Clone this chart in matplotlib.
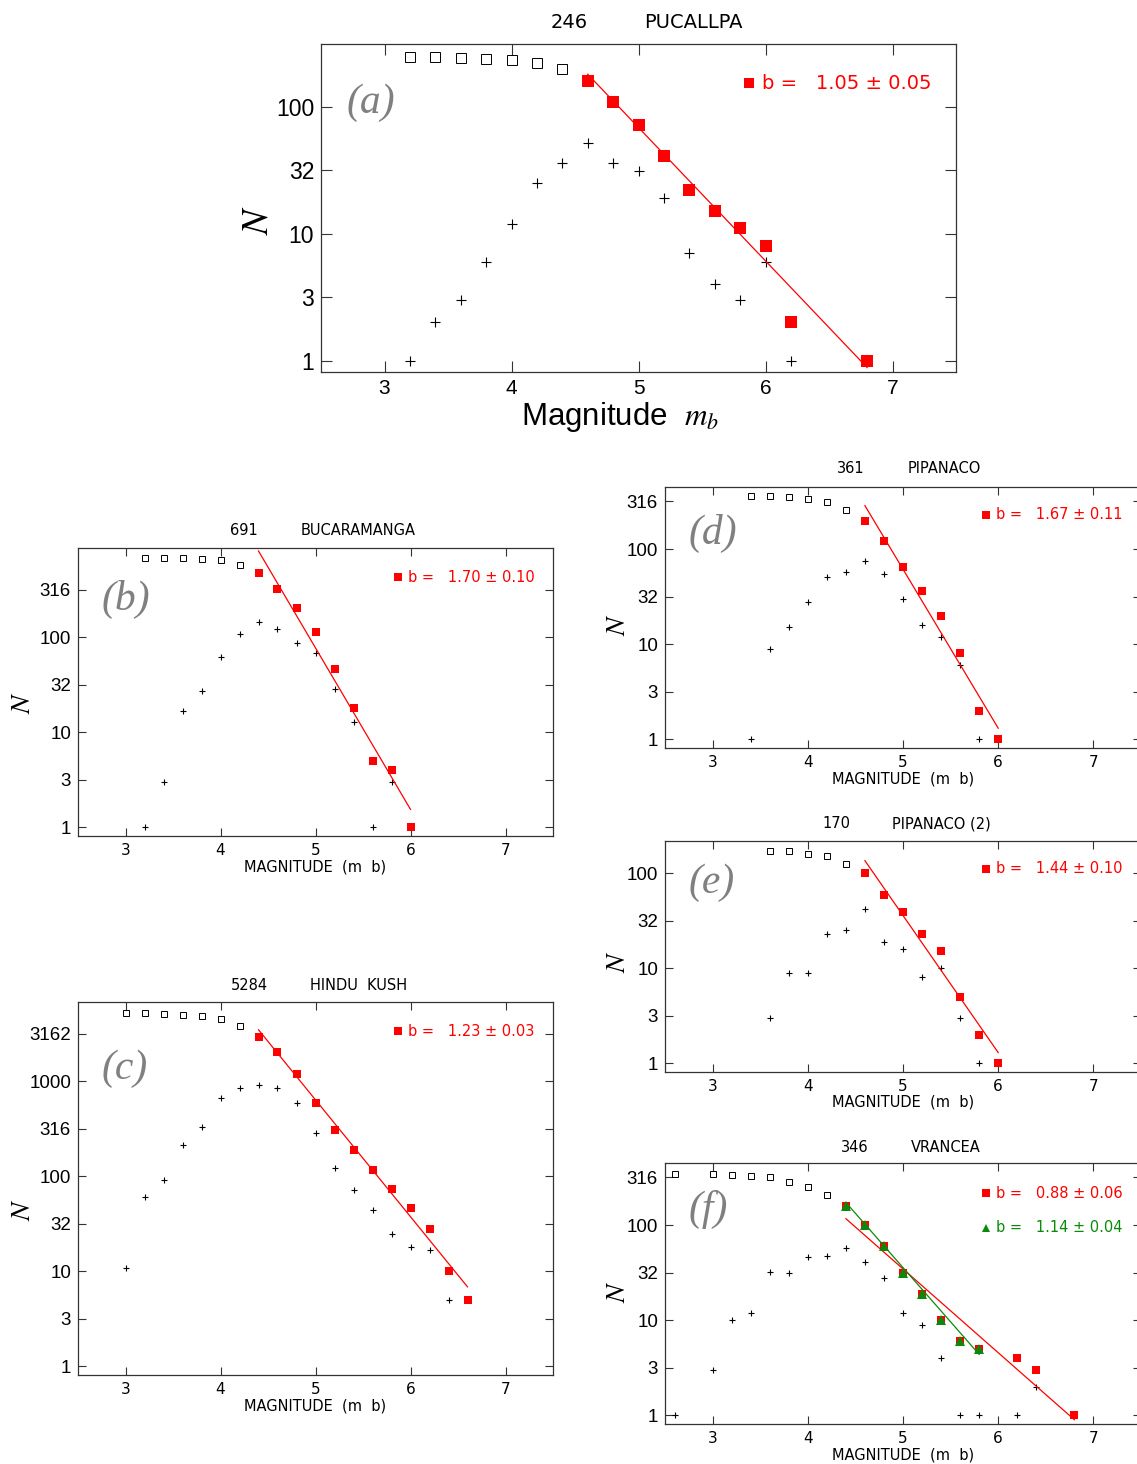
# %%
# b-value plots: cumulative (squares) and per-bin (+) counts vs magnitude

import numpy as np
import matplotlib.pyplot as plt
from matplotlib.ticker import NullLocator

plt.rcParams['mathtext.fontset'] = 'stix'

# %%
# Values

# (a) 246 PUCALLPA
mag_a = [3.2, 3.4, 3.6, 3.8, 4.0, 4.2, 4.4, 4.6, 4.8, 5.0, 5.2, 5.4, 5.6, 5.8, 6.0, 6.2, 6.8]
cum_a = [246, 245, 242, 239, 232, 220, 196, 158, 108, 71, 41, 22, 15, 11, 8, 2, 1]
inc_mag_a = [3.2, 3.4, 3.6, 3.8, 4.0, 4.2, 4.4, 4.6, 4.8, 5.0, 5.2, 5.4, 5.6, 5.8, 6.0, 6.2]
inc_a = [1, 2, 3, 6, 12, 25, 36, 52, 36, 31, 19, 7, 4, 3, 6, 1]
open_a = 7
fit_a = [1.05, 0.05, 7.085, 4.6, 6.8]   # b, error, log10 intercept, m from, m to

# (b) 691 BUCARAMANGA
mag_b = [3.2, 3.4, 3.6, 3.8, 4.0, 4.2, 4.4, 4.6, 4.8, 5.0, 5.2, 5.4, 5.6, 5.8, 6.0]
cum_b = [691, 690, 687, 673, 647, 582, 480, 325, 205, 115, 47, 18, 5, 4, 1]
inc_mag_b = [3.2, 3.4, 3.6, 3.8, 4.0, 4.2, 4.4, 4.6, 4.8, 5.0, 5.2, 5.4, 5.6, 5.8]
inc_b = [1, 3, 17, 27, 63, 108, 145, 122, 88, 68, 29, 13, 1, 3]
open_b = 6
fit_b = [1.70, 0.10, 10.39, 4.4, 6.0]

# (c) 5284 HINDU KUSH
mag_c = [3.0, 3.2, 3.4, 3.6, 3.8, 4.0, 4.2, 4.4, 4.6, 4.8, 5.0, 5.2, 5.4, 5.6, 5.8, 6.0, 6.2, 6.4, 6.6]
cum_c = [5270, 5213, 5170, 5050, 4850, 4510, 3810, 2945, 2049, 1203, 597, 311, 191, 118, 73, 46, 28, 10, 5]
inc_mag_c = [3.0, 3.2, 3.4, 3.6, 3.8, 4.0, 4.2, 4.4, 4.6, 4.8, 5.0, 5.2, 5.4, 5.6, 5.8, 6.0, 6.2, 6.4]
inc_c = [11, 61, 91, 213, 334, 663, 851, 907, 844, 587, 286, 123, 72, 44, 25, 18, 17, 5]
open_c = 7
fit_c = [1.23, 0.03, 8.956, 4.4, 6.6]

# (d) 361 PIPANACO
mag_d = [3.4, 3.6, 3.8, 4.0, 4.2, 4.4, 4.6, 4.8, 5.0, 5.2, 5.4, 5.6, 5.8, 6.0]
cum_d = [360, 360, 351, 337, 309, 254, 198, 122, 65, 36, 20, 8, 2, 1]
inc_mag_d = [3.4, 3.6, 3.8, 4.0, 4.2, 4.4, 4.6, 4.8, 5.0, 5.2, 5.4, 5.6, 5.8]
inc_d = [1, 9, 15, 28, 51, 57, 75, 55, 30, 16, 12, 6, 1]
open_d = 6
fit_d = [1.67, 0.11, 10.138, 4.6, 6.0]

# (e) 170 PIPANACO (2)
mag_e = [3.6, 3.8, 4.0, 4.2, 4.4, 4.6, 4.8, 5.0, 5.2, 5.4, 5.6, 5.8, 6.0]
cum_e = [170, 169, 160, 150, 125, 100, 59, 39, 23, 15, 5, 2, 1]
inc_mag_e = [3.6, 3.8, 4.0, 4.2, 4.4, 4.6, 4.8, 5.0, 5.2, 5.4, 5.6, 5.8]
inc_e = [3, 9, 9, 23, 25, 42, 19, 16, 8, 10, 3, 1]
open_e = 5
fit_e = [1.44, 0.10, 8.754, 4.6, 6.0]

# (f) 346 VRANCEA
mag_f = [2.6, 3.0, 3.2, 3.4, 3.6, 3.8, 4.0, 4.2, 4.4, 4.6, 4.8, 5.0, 5.2, 5.4, 5.6, 5.8, 6.2, 6.4, 6.8]
cum_f = [345, 343, 337, 327, 316, 283, 252, 206, 158, 100, 60, 31, 19, 10, 6, 5, 4, 3, 1]
inc_mag_f = [2.6, 3.0, 3.2, 3.4, 3.6, 3.8, 4.0, 4.2, 4.4, 4.6, 4.8, 5.0, 5.2, 5.4, 5.6, 5.8, 6.2, 6.4]
inc_f = [1, 3, 10, 12, 32, 31, 46, 47, 57, 41, 28, 12, 9, 4, 1, 1, 1, 2]
open_f = 8
fit_f = [0.88, 0.06, 5.939, 4.4, 6.8]
green_mag_f = [4.4, 4.6, 4.8, 5.0, 5.2, 5.4, 5.6, 5.8]
green_cum_f = [158, 100, 60, 31, 19, 10, 6, 5]
green_fit_f = [1.14, 0.04, 7.253, 4.4, 5.8]

ytick_labels = ['1', '3', '10', '32', '100', '316', '1000', '3162']
xtick_vals = [3, 4, 5, 6, 7]

# %%
# Figure in pixels

W, H = 1137, 1464
fig = plt.figure(figsize=(W / 100, H / 100), dpi=100)


def ftext(x, y, s, **kw):
    fig.text(x / W, 1 - y / H, s, **kw)


def panel(box, mags, cum, n_open, inc_mags, inc, fit, letter, leg_y, big=False):
    l, t, r, b = box
    ax = fig.add_axes([l / W, 1 - b / H, (r - l) / W, (b - t) / H])
    k = 1.34 if big else 1.0
    lo = -0.09
    hi = lo + (b - t) / (r - l) * 5.0
    ax.set_yscale('log')
    ax.set_xlim(2.5, 7.5)
    ax.set_ylim(10 ** lo, 10 ** hi)

    exps = np.arange(0, hi, 0.5)
    ax.set_yticks(10 ** exps, ytick_labels[:len(exps)],
                  fontfamily='Liberation Sans', fontsize=16.5 if big else 13.5)
    ax.set_xticks(xtick_vals, [str(v) for v in xtick_vals],
                  fontfamily='Liberation Sans' if big else 'DejaVu Sans',
                  fontsize=15 if big else 11)
    ax.yaxis.set_minor_locator(NullLocator())
    ax.tick_params(which='both', direction='in', top=True, right=True,
                   length=6 * k, width=0.8, color='#333333', pad=5)
    for s in ax.spines.values():
        s.set_color('#333333')
        s.set_linewidth(0.9)

    ax.plot(mags[:n_open], cum[:n_open], 's', mfc='none', mec='black',
            ms=5.0 * k, mew=0.7)
    ax.plot(mags[n_open:], cum[n_open:], 's', color='red', ms=6.3 * k, mew=0)
    ax.plot(inc_mags, inc, '+', color='black', ms=5 * k, mew=0.8)
    m = np.array(fit[3:5])
    ax.plot(m, 10 ** (fit[2] - fit[0] * m), color='red', lw=0.9)

    ax.plot([0.674], [leg_y], 's', color='red', ms=5.2 * k, mew=0,
            transform=ax.transAxes, clip_on=False)
    ax.text(0.695, leg_y, 'b =   %.2f ± %.2f' % (fit[0], fit[1]), color='red',
            transform=ax.transAxes, va='center', fontsize=10.5 * k,
            family='DejaVu Sans')
    ax.text(0.04 if big else 0.05, 0.82, letter, transform=ax.transAxes,
            fontsize=30, family='Liberation Serif', style='italic',
            color='#808080', va='center')
    return ax


# %%
# Panel (a)
panel((321, 44, 956, 372), mag_a, cum_a, open_a, inc_mag_a, inc_a, fit_a,
      '(a)', 0.881, big=True)
ftext(569, 22, '246', ha='center', va='center', fontsize=14, family='DejaVu Sans')
ftext(644, 22, 'PUCALLPA', ha='left', va='center', fontsize=14, family='DejaVu Sans')
ftext(620, 417, 'Magnitude  $m_b$', ha='center', va='center', fontsize=22.5,
      family='Liberation Sans')
ftext(258, 220, '$N$', ha='center', va='center', fontsize=27, rotation=90)

# Panel (b)
panel((78, 548, 553, 836), mag_b, cum_b, open_b, inc_mag_b, inc_b, fit_b,
      '(b)', 0.899)
ftext(244, 531, '691', ha='center', va='center', fontsize=10.5, family='DejaVu Sans')
ftext(301, 531, 'BUCARAMANGA', ha='left', va='center', fontsize=10.5, family='DejaVu Sans')
ftext(315, 867, 'MAGNITUDE  (m  b)', ha='center', va='center', fontsize=10.5,
      family='DejaVu Sans')
ftext(22, 703, '$N$', ha='center', va='center', fontsize=20, rotation=90)

# Panel (c)
panel((78, 1002, 553, 1375), mag_c, cum_c, open_c, inc_mag_c, inc_c, fit_c,
      '(c)', 0.922)
ftext(249, 985, '5284', ha='center', va='center', fontsize=10.5, family='DejaVu Sans')
ftext(310, 985, 'HINDU  KUSH', ha='left', va='center', fontsize=10.5, family='DejaVu Sans')
ftext(315, 1406, 'MAGNITUDE  (m  b)', ha='center', va='center', fontsize=10.5,
      family='DejaVu Sans')
ftext(22, 1210, '$N$', ha='center', va='center', fontsize=20, rotation=90)

# Panel (d)
panel((665, 487, 1141, 748), mag_d, cum_d, open_d, inc_mag_d, inc_d, fit_d,
      '(d)', 0.893)
ftext(851, 469, '361', ha='center', va='center', fontsize=10.5, family='DejaVu Sans')
ftext(908, 469, 'PIPANACO', ha='left', va='center', fontsize=10.5, family='DejaVu Sans')
ftext(903, 779, 'MAGNITUDE  (m  b)', ha='center', va='center', fontsize=10.5,
      family='DejaVu Sans')
ftext(617, 625, '$N$', ha='center', va='center', fontsize=20, rotation=90)

# Panel (e)
panel((665, 841, 1141, 1072), mag_e, cum_e, open_e, inc_mag_e, inc_e, fit_e,
      '(e)', 0.879)
ftext(836, 824, '170', ha='center', va='center', fontsize=10.5, family='DejaVu Sans')
ftext(892, 824, 'PIPANACO (2)', ha='left', va='center', fontsize=10.5, family='DejaVu Sans')
ftext(903, 1102, 'MAGNITUDE  (m  b)', ha='center', va='center', fontsize=10.5,
      family='DejaVu Sans')
ftext(617, 962, '$N$', ha='center', va='center', fontsize=20, rotation=90)

# Panel (f), with the second (green) fit
ax_f = panel((665, 1163, 1141, 1424), mag_f, cum_f, open_f, inc_mag_f, inc_f, fit_f,
             '(f)', 0.885)
mg = np.array(green_fit_f[3:5])
ax_f.plot(mg, 10 ** (green_fit_f[2] - green_fit_f[0] * mg), color='#0a8a0a', lw=0.9)
ax_f.plot(green_mag_f, green_cum_f, '^', color='#0a8a0a', ms=6.5, mew=0)
ax_f.plot([0.674], [0.751], '^', color='#0a8a0a', ms=6.0, mew=0,
          transform=ax_f.transAxes, clip_on=False)
ax_f.text(0.695, 0.751, 'b =   %.2f ± %.2f' % (green_fit_f[0], green_fit_f[1]),
          color='#0a8a0a', transform=ax_f.transAxes, va='center', fontsize=10.5,
          family='DejaVu Sans')
ftext(855, 1147, '346', ha='center', va='center', fontsize=10.5, family='DejaVu Sans')
ftext(911, 1147, 'VRANCEA', ha='left', va='center', fontsize=10.5, family='DejaVu Sans')
ftext(903, 1455, 'MAGNITUDE  (m  b)', ha='center', va='center', fontsize=10.5,
      family='DejaVu Sans')
ftext(617, 1292, '$N$', ha='center', va='center', fontsize=20, rotation=90)

plt.savefig('out.png', dpi=100)
